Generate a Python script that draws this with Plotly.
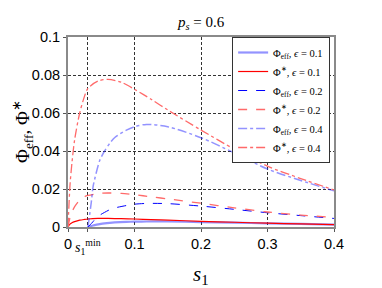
import plotly.graph_objects as go

# ---- data ----
s_star = [0, 0.003, 0.006, 0.01, 0.0176, 0.025, 0.03, 0.045, 0.06, 0.08, 0.1, 0.125, 0.15, 0.2, 0.25, 0.3, 0.35, 0.4]
phi_star_01 = [0, 0.0015, 0.0022, 0.0028, 0.0036, 0.004, 0.0042, 0.0045, 0.0045, 0.0044, 0.0042, 0.0039, 0.0036, 0.003, 0.0025, 0.002, 0.0016, 0.0012]
phi_star_02 = [0, 0.005, 0.008, 0.0107, 0.0142, 0.016, 0.0166, 0.0176, 0.0179, 0.0177, 0.017, 0.0159, 0.0148, 0.0125, 0.0101, 0.0079, 0.0063, 0.005]
phi_star_04 = [0, 0.022, 0.034, 0.046, 0.060, 0.069, 0.073, 0.0768, 0.0777, 0.0762, 0.0725, 0.0672, 0.0616, 0.051, 0.041, 0.032, 0.0255, 0.0195]

s_eff = [0.03, 0.035, 0.0376, 0.04, 0.0477, 0.055, 0.0627, 0.07, 0.0878, 0.1, 0.118, 0.15, 0.2, 0.25, 0.3, 0.35, 0.4]
phi_eff_01 = [0, 0.0005, 0.0008, 0.001, 0.0015, 0.0019, 0.0022, 0.0024, 0.0027, 0.0028, 0.0029, 0.0029, 0.0026, 0.0023, 0.0019, 0.0016, 0.0013]
phi_eff_02 = [0, 0.0018, 0.0028, 0.0038, 0.0062, 0.0077, 0.0091, 0.01, 0.0113, 0.012, 0.0124, 0.0123, 0.011, 0.0093, 0.0075, 0.006, 0.0045]
phi_eff_04 = [0, 0.013, 0.021, 0.025, 0.035, 0.040, 0.044, 0.047, 0.051, 0.0528, 0.054, 0.0528, 0.047, 0.039, 0.0305, 0.0245, 0.019]

x_ticks = [0, 0.03, 0.1, 0.2, 0.3, 0.4]
x_ticktext = ["0", "", "0.1", "0.2", "0.3", "0.4"]
y_ticks = [0, 0.02, 0.04, 0.06, 0.08, 0.1]
y_ticktext = ["0", "0.02", "0.04", "0.06", "0.08", "0.1"]

LB = "rgba(40,40,255,0.5)"
B = "#0000ff"
R = "#ff0000"
LR = "#ff6a6a"

EFF = "Φ<sub>eff</sub>, <i>ϵ</i> = "
STAR = "Φ<sup>∗</sup>, <i>ϵ</i> = "

fig = go.Figure()
traces = [
    (s_eff, phi_eff_01, EFF + "0.1", LB, "solid", 2.2),
    (s_star, phi_star_01, STAR + "0.1", R, "solid", 1.2),
    (s_eff, phi_eff_02, EFF + "0.2", B, "dash", 1.0),
    (s_star, phi_star_02, STAR + "0.2", LR, "dash", 1.3),
    (s_eff, phi_eff_04, EFF + "0.4", LB, "dashdot", 1.5),
    (s_star, phi_star_04, STAR + "0.4", LR, "dashdot", 1.3),
]
for xs, ys, name, col, dash, w in traces:
    fig.add_trace(go.Scatter(x=xs, y=ys, name=name, mode="lines",
                             line=dict(color=col, dash=dash, width=w, shape="spline", smoothing=0.8)))

axis_common = dict(showline=True, linecolor="#8a8a8a", linewidth=2, mirror=True,
                   ticks="outside", ticklen=3, tickcolor="#555", tickwidth=1,
                   showgrid=True, gridcolor="#333", griddash="3px,2px", gridwidth=1,
                   zeroline=False,
                   tickfont=dict(family="Liberation Sans, Arial", size=14.5, color="black"))

fig.update_xaxes(range=[0, 0.4], tickvals=x_ticks, ticktext=x_ticktext, **axis_common)
fig.update_yaxes(range=[0, 0.1], tickvals=y_ticks, ticktext=y_ticktext, **axis_common)

# page body has an 8px margin: figure is 374x280 placed at (8, 8)
fig.update_layout(
    width=374, height=280,
    margin=dict(l=60, r=48, t=29, b=61),
    paper_bgcolor="white", plot_bgcolor="white",
    showlegend=True,
    legend=dict(x=0.617, y=1.0, xanchor="left", yanchor="top",
                bgcolor="white", bordercolor="#333", borderwidth=1,
                font=dict(family="Liberation Serif, serif", size=10.5, color="black"),
                tracegroupgap=0, itemwidth=30),
    annotations=[
        dict(text="<i>p<sub>s</sub></i> = 0.6", x=0.5, y=1.0, xref="paper", yref="paper",
             xanchor="center", yanchor="bottom", yshift=3, showarrow=False,
             font=dict(family="Liberation Serif, serif", size=15, color="black")),
        dict(text="<i>s</i><sub>1</sub>", x=0.5, y=0, xref="paper", yref="paper",
             xanchor="center", yanchor="top", yshift=-33, showarrow=False,
             font=dict(family="Liberation Serif, serif", size=21, color="black")),
        dict(text="Φ<sub>eff</sub>, Φ<sup>∗</sup>", x=0, y=0.5, xref="paper", yref="paper",
             xanchor="center", yanchor="middle", xshift=-46, textangle=-90, showarrow=False,
             font=dict(family="Liberation Serif, serif", size=19, color="black")),
        dict(text="<i>s</i><sub>1</sub><sup>min</sup>", x=0.03, y=0, xref="x", yref="paper",
             xanchor="center", yanchor="top", yshift=-8, showarrow=False,
             font=dict(family="Liberation Serif, serif", size=14, color="black")),
    ],
)

fig.write_html("out.html")
